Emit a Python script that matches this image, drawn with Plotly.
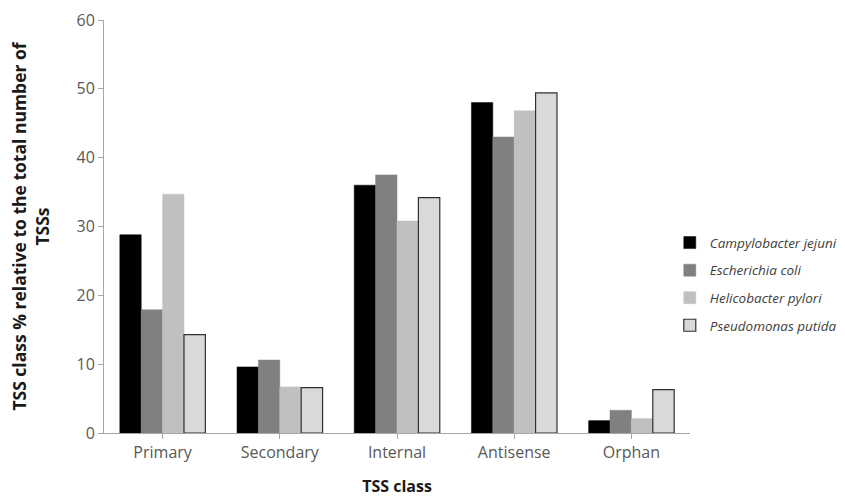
import plotly.graph_objects as go

categories = ["Primary", "Secondary", "Internal", "Antisense", "Orphan"]
species = ["Campylobacter jejuni", "Escherichia coli", "Helicobacter pylori", "Pseudomonas putida"]
campylobacter = [28.8, 9.6, 36.0, 48.0, 1.8]
escherichia = [17.9, 10.6, 37.5, 43.0, 3.3]
helicobacter = [34.7, 6.7, 30.8, 46.8, 2.1]
pseudomonas = [14.3, 6.6, 34.2, 49.4, 6.3]
y_ticks = [0, 10, 20, 30, 40, 50, 60]

series = [campylobacter, escherichia, helicobacter, pseudomonas]
colors = ["#000000", "#808080", "#c0c0c0", "#d9d9d9"]
lines = [("#000000", 0.5), ("#808080", 0.5), ("#c0c0c0", 0.5), ("#303030", 1.2)]

fig = go.Figure()
for name, vals, col, (lc, lw) in zip(species, series, colors, lines):
    fig.add_trace(go.Bar(
        x=categories, y=vals, name=name, legendgroup=name,
        marker=dict(color=col, line=dict(color=lc, width=lw)),
    ))

fig.update_layout(
    width=845, height=498,
    barmode="group", bargap=0.27, bargroupgap=0,
    plot_bgcolor="white", paper_bgcolor="white",
    margin=dict(l=104, r=155, t=20, b=65, autoexpand=False),
    font=dict(family="Open Sans, Liberation Sans, sans-serif", color="#595959", size=16),
    legend=dict(
        x=0.9655, y=0.36, xanchor="left", yanchor="middle",
        font=dict(size=13.5, color="#404040", style="italic"),
        tracegroupgap=7, itemwidth=30,
    ),
    xaxis=dict(
        automargin=False,
        showline=True, linecolor="#a6a6a6", linewidth=1,
        ticks="outside", ticklen=5, tickcolor="#a6a6a6",
        title=dict(text="<b>TSS class</b>", font=dict(size=16, color="#1a1a1a"), standoff=18),
    ),
    yaxis=dict(
        automargin=False,
        range=[0, 60], tickvals=y_ticks,
        showline=True, linecolor="#a6a6a6", linewidth=1,
        ticks="outside", ticklen=5, tickcolor="#a6a6a6",
        showgrid=False, zeroline=False,
        title=dict(text="<b>TSS class % relative to the total number of<br>TSSs</b>",
                   font=dict(size=17.5, color="#1a1a1a"), standoff=22),
    ),
)

fig.write_html("out.html", config={"displayModeBar": False},
               post_script="document.body.style.margin='0';")
